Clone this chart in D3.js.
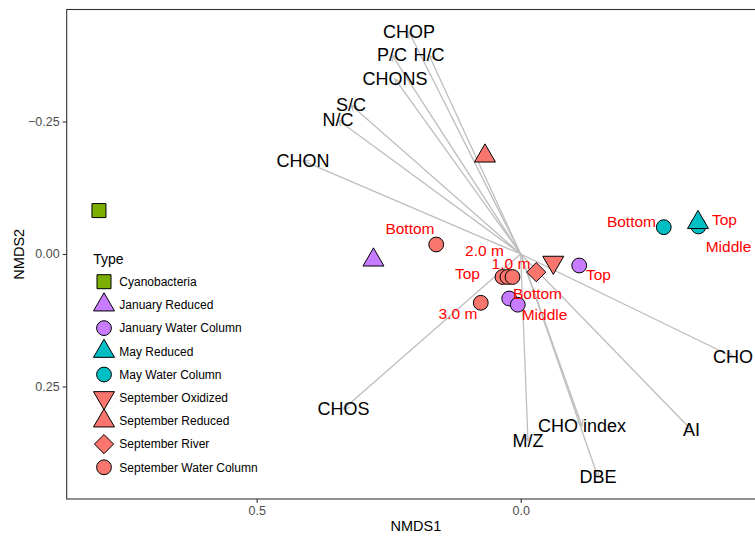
<!DOCTYPE html>
<html>
<head>
<meta charset="utf-8">
<script src="https://cdn.jsdelivr.net/npm/d3@7"></script>
<style>
  html, body { margin: 0; padding: 0; background: #fff; }
  svg { display: block; font-family: "Liberation Sans", Arial, sans-serif; }
</style>
</head>
<body>
<svg id="chart" width="755" height="536"></svg>
<script>
// ---- NMDS sample scores ----
const sampleTypes = ["Cyanobacteria", "January Reduced", "January Water Column", "May Reduced",
  "May Water Column", "September Oxidized", "September Reduced", "September River", "September Water Column"];
const typeFill = ["#7CAE00", "#C77CFF", "#C77CFF", "#00BFC4", "#00BFC4", "#F8766D", "#F8766D", "#F8766D", "#F8766D"];
const typeShape = ["square", "triangle", "circle", "triangle", "circle", "triangleDown", "triangle", "diamond", "circle"];

const sampleType  = ["Cyanobacteria", "January Reduced", "September Reduced",
  "May Water Column", "May Water Column", "May Water Column", "May Reduced",
  "September Water Column", "September Water Column", "September Water Column", "September Water Column", "September Water Column",
  "January Water Column", "January Water Column", "January Water Column",
  "September River", "September Oxidized"];
const sampleNMDS1 = [0.7987, 0.2788, 0.0676, -0.2710, -0.3358, -0.3367, -0.3358,
  0.1600, 0.0345, 0.0250, 0.0155, 0.0756, 0.0218, 0.0055, -0.1108, -0.0295, -0.0617];
const sampleNMDS2 = [-0.0819, 0.0113, -0.1849, -0.0506, -0.0547, -0.0519, -0.0594,
  -0.0179, 0.0434, 0.0434, 0.0434, 0.0921, 0.0840, 0.0957, 0.0217, 0.0343, 0.0157];

// ---- depth labels (placed beside their samples) ----
const depthLabel = ["Bottom", "Top", "Middle", "Bottom", "2.0 m", "1.0 m", "Top", "3.0 m", "Bottom", "Middle", "Top"];
const depthNMDS1 = [-0.2098, -0.3860, -0.3936, 0.2097, 0.0686, 0.0184, 0.1008, 0.1188, -0.0318, -0.0451, -0.1473];
const depthNMDS2 = [-0.0613, -0.0651, -0.0142, -0.0491, -0.0075, 0.0170, 0.0368, 0.1113, 0.0745, 0.1132, 0.0387];

// ---- fitted environmental vectors ----
const vectorName  = ["CHOP", "P/C", "H/C", "CHONS", "S/C", "N/C", "CHON", "CHOS", "M/Z", "CHO index", "DBE", "AI", "CHO"];
const vectorNMDS1 = [0.2116, 0.2438, 0.1737, 0.2381, 0.3214, 0.3460, 0.4123, 0.3356, -0.0138, -0.1161, -0.1464, -0.3235, -0.4021];
const vectorNMDS2 = [-0.4189, -0.3755, -0.3755, -0.3302, -0.2811, -0.2528, -0.1755, 0.2925, 0.3528, 0.3245, 0.4208, 0.3321, 0.1943];

// ---- axes ----
const xTicks = [0.5, 0.0];
const yTicks = [-0.25, 0.0, 0.25];

const svg = d3.select("#chart");
const panel = { left: 66.7, top: 9.5, right: 765, bottom: 499 };

const x = d3.scaleLinear().domain([0.8598, -0.4627]).range([panel.left, panel.right]);
const y = d3.scaleLinear().domain([-0.4613, 0.4623]).range([panel.top, panel.bottom]);

svg.append("rect").attr("width", 755).attr("height", 536).attr("fill", "#fff");

// panel border
svg.append("rect")
  .attr("x", panel.left).attr("y", panel.top)
  .attr("width", panel.right - panel.left).attr("height", panel.bottom - panel.top)
  .attr("fill", "none").attr("stroke", "#333").attr("stroke-width", 1.1);

// axes
const xAxis = svg.append("g")
  .attr("transform", `translate(0,${panel.bottom})`)
  .call(d3.axisBottom(x).tickValues(xTicks).tickFormat(d3.format(".1f")).tickSize(4).tickPadding(3));
const yAxis = svg.append("g")
  .attr("transform", `translate(${panel.left},0)`)
  .call(d3.axisLeft(y).tickValues(yTicks).tickFormat(d => d3.format(".2f")(d).replace("-", "\u2212")).tickSize(4).tickPadding(3));
[xAxis, yAxis].forEach(g => {
  g.select(".domain").remove();
  g.selectAll(".tick line").attr("stroke", "#333").attr("stroke-width", 1.1);
  g.selectAll(".tick text").attr("fill", "#4D4D4D").style("font-size", "12.5px")
    .style("font-family", "'Liberation Sans', Arial, sans-serif");
});

svg.append("text").attr("x", (panel.left + panel.right) / 2).attr("y", 531)
  .attr("text-anchor", "middle").style("font-size", "14.5px").attr("fill", "#000").text("NMDS1");
svg.append("text").attr("transform", `translate(24,${(panel.top + panel.bottom) / 2}) rotate(-90)`)
  .attr("text-anchor", "middle").style("font-size", "14.5px").attr("fill", "#000").text("NMDS2");

// arrowhead for the vectors
svg.append("defs").append("marker")
  .attr("id", "arrowhead").attr("viewBox", "-7 -4 8 8")
  .attr("refX", 0).attr("refY", 0)
  .attr("markerWidth", 8).attr("markerHeight", 8)
  .attr("markerUnits", "userSpaceOnUse").attr("orient", "auto")
  .append("path").attr("d", "M-6,-3.2 L0,0 L-6,3.2")
  .attr("fill", "none").attr("stroke", "#BEBEBE").attr("stroke-width", 1.2);

const vectors = vectorName.map((name, i) => ({ name, v1: vectorNMDS1[i], v2: vectorNMDS2[i] }));

svg.append("g").selectAll("line").data(vectors).join("line")
  .attr("x1", x(0)).attr("y1", y(0))
  .attr("x2", d => x(d.v1)).attr("y2", d => y(d.v2))
  .attr("stroke", "#BEBEBE").attr("stroke-width", 1.3)
  .attr("marker-end", "url(#arrowhead)");

// point symbols
function symbolPath(shape) {
  switch (shape) {
    case "square": return "M-7,-7 L7,-7 L7,7 L-7,7 Z";
    case "circle": return d3.arc()({ innerRadius: 0, outerRadius: 7.4, startAngle: 0, endAngle: 2 * Math.PI });
    case "triangle": return "M0,-12.1 L10.5,6.05 L-10.5,6.05 Z";
    case "triangleDown": return "M0,12.1 L10.5,-6.05 L-10.5,-6.05 Z";
    case "diamond": return "M0,-9.6 L9.6,0 L0,9.6 L-9.6,0 Z";
  }
}

const samples = sampleType.map((t, i) => ({ type: t, v1: sampleNMDS1[i], v2: sampleNMDS2[i] }));
svg.append("g").selectAll("path").data(samples).join("path")
  .attr("transform", d => `translate(${x(d.v1)},${y(d.v2)})`)
  .attr("d", d => symbolPath(typeShape[sampleTypes.indexOf(d.type)]))
  .attr("fill", d => typeFill[sampleTypes.indexOf(d.type)])
  .attr("stroke", "#000").attr("stroke-width", 1);

// vector labels
svg.append("g").selectAll("text").data(vectors).join("text")
  .attr("x", d => x(d.v1)).attr("y", d => y(d.v2))
  .attr("text-anchor", "middle").attr("dy", "0.36em")
  .style("font-size", "18px").attr("fill", "#000")
  .text(d => d.name);

// depth labels
const depths = depthLabel.map((t, i) => ({ t, v1: depthNMDS1[i], v2: depthNMDS2[i] }));
svg.append("g").selectAll("text").data(depths).join("text")
  .attr("x", d => x(d.v1)).attr("y", d => y(d.v2))
  .attr("text-anchor", "middle").attr("dy", "0.36em")
  .style("font-size", "15.5px").attr("fill", "#FF0000")
  .text(d => d.t);

// legend
const legend = svg.append("g");
legend.append("text").attr("x", 93.3).attr("y", 259).attr("dy", "0.36em")
  .style("font-size", "14px").attr("fill", "#000").text("Type");
const items = legend.selectAll("g.item").data(sampleTypes).join("g")
  .attr("class", "item")
  .attr("transform", (d, i) => `translate(104,${281.7 + i * 23.2})`);
items.append("path")
  .attr("d", (d, i) => symbolPath(typeShape[i]))
  .attr("fill", (d, i) => typeFill[i])
  .attr("stroke", "#000").attr("stroke-width", 1);
items.append("text").attr("x", 15.3).attr("dy", "0.36em")
  .style("font-size", "12px").attr("fill", "#000").text(d => d);
</script>
</body>
</html>
